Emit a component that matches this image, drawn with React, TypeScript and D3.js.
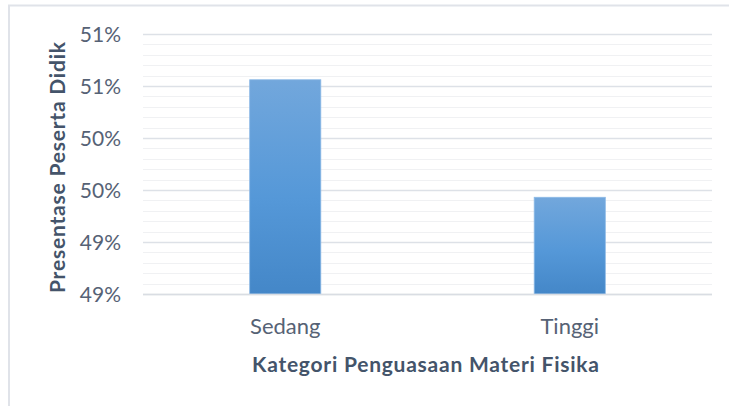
import React, { useEffect, useRef } from "react";
import * as d3 from "d3";

const categories = ["Sedang", "Tinggi"];
const values = [51.06, 49.93];
const tickValues = [49, 49.5, 50, 50.5, 51, 51.5];
const tickLabels = ["49%", "49%", "50%", "50%", "51%", "51%"];
const minorTicks = d3.range(49, 51.5001, 0.1);

const WIDTH = 729;
const HEIGHT = 406;
const FONT = "Lato, 'Open Sans', sans-serif";

const App = () => {
  const svgRef = useRef<SVGSVGElement>(null);

  useEffect(() => {
    document.body.style.margin = "0";
    const svg = d3.select(svgRef.current);
    svg.selectAll("*").remove();

    const plot = { left: 143, right: 712, top: 34, bottom: 294 };

    const x = d3.scaleBand<string>()
      .domain(categories)
      .range([plot.left, plot.right])
      .paddingInner(0.75)
      .paddingOuter(0.375);

    const y = d3.scaleLinear()
      .domain([49, 51.5])
      .range([plot.bottom, plot.top]);

    // gradient for the bars
    const defs = svg.append("defs");
    const grad = defs.append("linearGradient")
      .attr("id", "barGrad")
      .attr("x1", 0).attr("y1", 0)
      .attr("x2", 0).attr("y2", 1);
    grad.append("stop").attr("offset", "0%").attr("stop-color", "#72a7dc");
    grad.append("stop").attr("offset", "55%").attr("stop-color", "#5598d8");
    grad.append("stop").attr("offset", "100%").attr("stop-color", "#4487c8");

    // chart frame
    svg.append("path")
      .attr("d", `M9,${HEIGHT} V5.5 H${WIDTH}`)
      .attr("fill", "none")
      .attr("stroke", "#e0e3e9")
      .attr("stroke-width", 2);

    // minor gridlines
    svg.append("g")
      .selectAll("line")
      .data(minorTicks)
      .join("line")
      .attr("x1", plot.left)
      .attr("x2", plot.right)
      .attr("y1", (d) => Math.round(y(d)) + 0.5)
      .attr("y2", (d) => Math.round(y(d)) + 0.5)
      .attr("stroke", "#f0f1f3")
      .attr("stroke-width", 1);

    // major gridlines
    svg.append("g")
      .selectAll("line")
      .data(tickValues)
      .join("line")
      .attr("x1", plot.left)
      .attr("x2", plot.right)
      .attr("y1", (d) => Math.round(y(d)) + 0.5)
      .attr("y2", (d) => Math.round(y(d)) + 0.5)
      .attr("stroke", "#dde1e7")
      .attr("stroke-width", 1.3);

    // bars
    svg.append("g")
      .selectAll("rect")
      .data(values)
      .join("rect")
      .attr("x", (d, i) => x(categories[i])!)
      .attr("width", x.bandwidth())
      .attr("y", (d) => y(d))
      .attr("height", (d) => y(49) - y(d))
      .attr("fill", "url(#barGrad)")
      .attr("stroke", "#8cb9e6")
      .attr("stroke-width", 0.8);

    // baseline
    svg.append("line")
      .attr("x1", plot.left)
      .attr("x2", plot.right)
      .attr("y1", y(49) + 0.5)
      .attr("y2", y(49) + 0.5)
      .attr("stroke", "#d9dde3")
      .attr("stroke-width", 1.3);

    // y tick labels
    svg.append("g")
      .selectAll("text")
      .data(tickValues)
      .join("text")
      .attr("x", 121)
      .attr("y", (d) => y(d))
      .attr("dy", "0.36em")
      .attr("text-anchor", "end")
      .attr("font-family", FONT)
      .attr("font-size", 21)
      .attr("fill", "#566275")
      .text((d, i) => tickLabels[i]);

    // x category labels
    svg.append("g")
      .selectAll("text")
      .data(categories)
      .join("text")
      .attr("x", (d) => x(d)! + x.bandwidth() / 2)
      .attr("y", 334)
      .attr("text-anchor", "middle")
      .attr("font-family", FONT)
      .attr("font-size", 22)
      .attr("fill", "#566275")
      .text((d) => d);

    // axis titles
    svg.append("text")
      .attr("x", 425.5)
      .attr("y", 372)
      .attr("text-anchor", "middle")
      .attr("font-family", FONT)
      .attr("font-size", 21)
      .attr("font-weight", "bold")
      .attr("fill", "#44546a")
      .attr("textLength", 347)
      .attr("lengthAdjust", "spacing")
      .text("Kategori Penguasaan Materi Fisika");

    svg.append("text")
      .attr("transform", `translate(65,167.5) rotate(-90)`)
      .attr("text-anchor", "middle")
      .attr("font-family", FONT)
      .attr("font-size", 21)
      .attr("font-weight", "bold")
      .attr("fill", "#44546a")
      .attr("textLength", 251)
      .attr("lengthAdjust", "spacing")
      .text("Presentase Peserta Didik");
  }, []);

  return <svg ref={svgRef} width={WIDTH} height={HEIGHT} style={{ display: "block", background: "#fff" }} />;
};

export default App;
